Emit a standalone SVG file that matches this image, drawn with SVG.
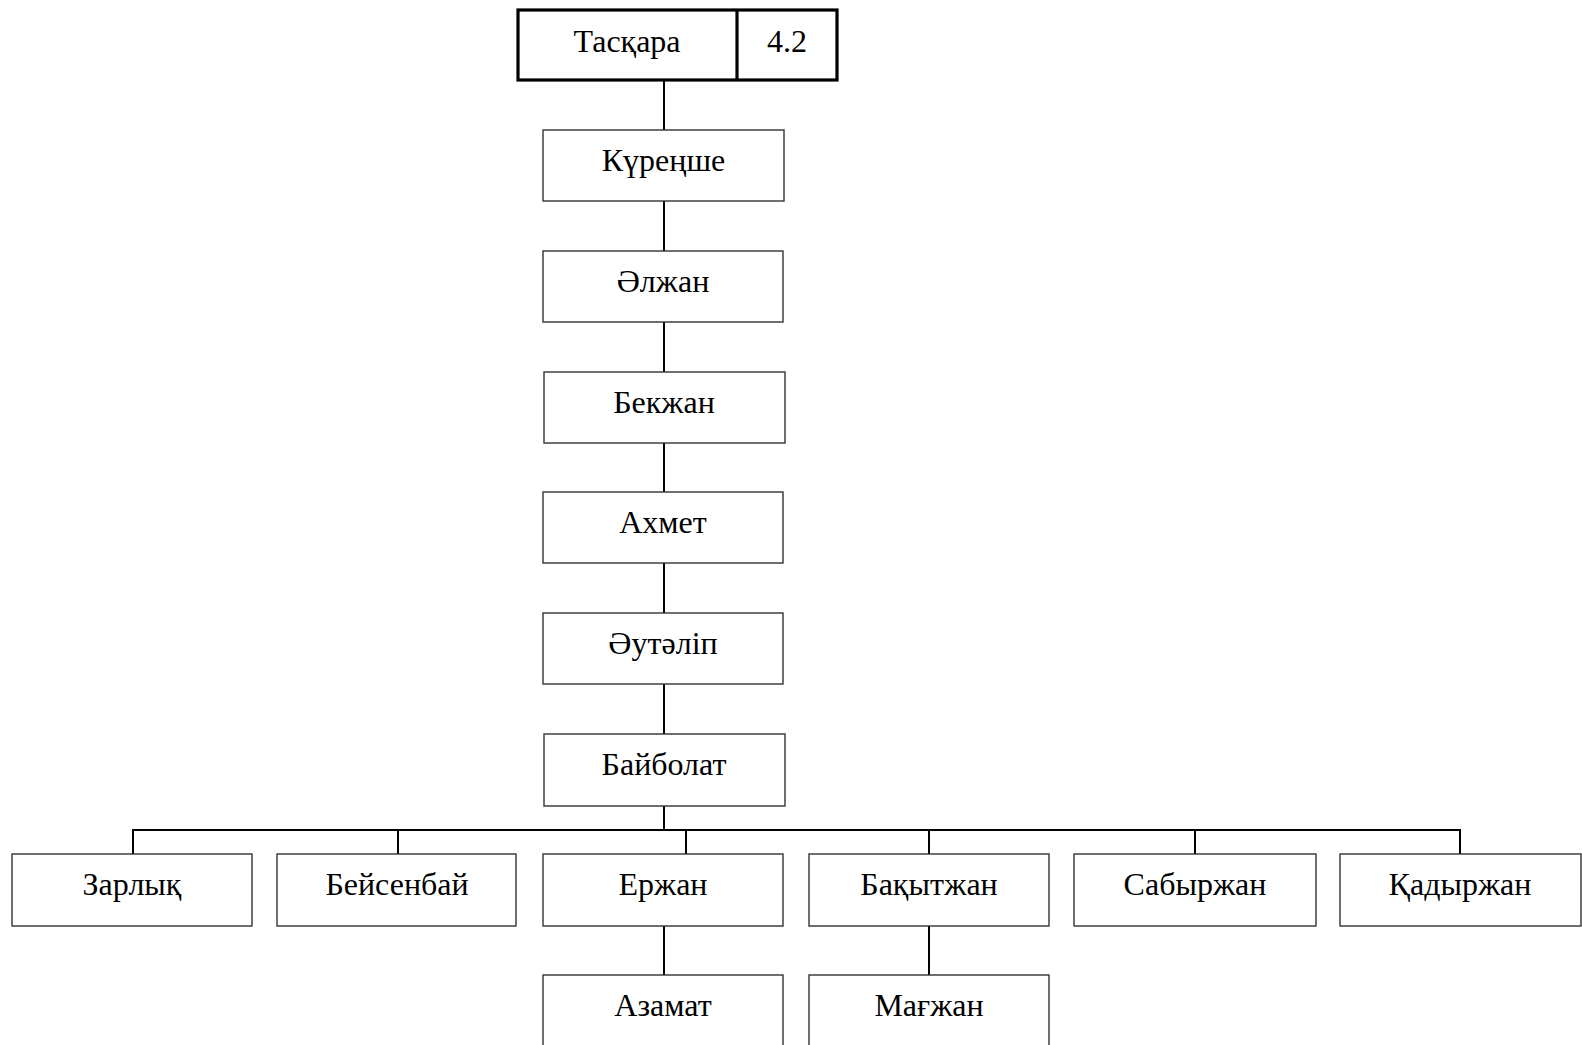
<svg xmlns="http://www.w3.org/2000/svg" width="1582" height="1045" viewBox="0 0 1582 1045">
<style>
.box{fill:#fff;stroke:#333;stroke-width:1.4}
.top{fill:#fff;stroke:#000;stroke-width:3.2}
.t{font-family:"Liberation Serif","Times New Roman",serif;font-size:32px;fill:#000;text-anchor:middle}
.c{stroke:#000;stroke-width:2;fill:none}
</style>
<rect width="1582" height="1045" fill="#fff"/>
<g id="connectors">
<line class="c" x1="664" y1="80" x2="664" y2="130"/>
<line class="c" x1="664" y1="201" x2="664" y2="251"/>
<line class="c" x1="664" y1="322" x2="664" y2="372"/>
<line class="c" x1="664" y1="443" x2="664" y2="492"/>
<line class="c" x1="664" y1="563" x2="664" y2="613"/>
<line class="c" x1="664" y1="684" x2="664" y2="734"/>
<line class="c" x1="664" y1="806" x2="664" y2="830"/>
<polyline class="c" points="133,854 133,830 1460,830 1460,854"/>
<line class="c" x1="398" y1="830" x2="398" y2="854"/>
<line class="c" x1="686" y1="830" x2="686" y2="854"/>
<line class="c" x1="929" y1="830" x2="929" y2="854"/>
<line class="c" x1="1195" y1="830" x2="1195" y2="854"/>
<line class="c" x1="664" y1="926" x2="664" y2="975"/>
<line class="c" x1="929" y1="926" x2="929" y2="975"/>
</g>
<g id="n-taskara">
<rect class="top" x="518" y="10" width="319" height="70"/>
<line x1="737" y1="10" x2="737" y2="80" stroke="#000" stroke-width="3.2"/>
<text class="t" x="627" y="52">Тасқара</text>
<text class="t" x="787" y="52">4.2</text>
</g>
<g id="n-kurenshe"><rect class="box" x="543" y="130" width="241" height="71"/><text class="t" x="663.5" y="171">Күреңше</text></g>
<g id="n-alzhan"><rect class="box" x="543" y="251" width="240" height="71"/><text class="t" x="663" y="292">Әлжан</text></g>
<g id="n-bekzhan"><rect class="box" x="544" y="372" width="241" height="71"/><text class="t" x="664" y="413">Бекжан</text></g>
<g id="n-akhmet"><rect class="box" x="543" y="492" width="240" height="71"/><text class="t" x="663" y="533">Ахмет</text></g>
<g id="n-autalip"><rect class="box" x="543" y="613" width="240" height="71"/><text class="t" x="663" y="654">Әутәліп</text></g>
<g id="n-baibolat"><rect class="box" x="544" y="734" width="241" height="72"/><text class="t" x="664" y="775">Байболат</text></g>
<g id="n-zarlyk"><rect class="box" x="12" y="854" width="240" height="72"/><text class="t" x="132" y="895">Зарлық</text></g>
<g id="n-beisenbai"><rect class="box" x="277" y="854" width="239" height="72"/><text class="t" x="397" y="895">Бейсенбай</text></g>
<g id="n-erzhan"><rect class="box" x="543" y="854" width="240" height="72"/><text class="t" x="663" y="895">Ержан</text></g>
<g id="n-bakytzhan"><rect class="box" x="809" y="854" width="240" height="72"/><text class="t" x="929" y="895">Бақытжан</text></g>
<g id="n-sabyrzhan"><rect class="box" x="1074" y="854" width="242" height="72"/><text class="t" x="1195" y="895">Сабыржан</text></g>
<g id="n-kadyrzhan"><rect class="box" x="1340" y="854" width="241" height="72"/><text class="t" x="1460" y="895">Қадыржан</text></g>
<g id="n-azamat"><rect class="box" x="543" y="975" width="240" height="80"/><text class="t" x="663" y="1016">Азамат</text></g>
<g id="n-magzhan"><rect class="box" x="809" y="975" width="240" height="80"/><text class="t" x="929" y="1016">Мағжан</text></g>
</svg>
